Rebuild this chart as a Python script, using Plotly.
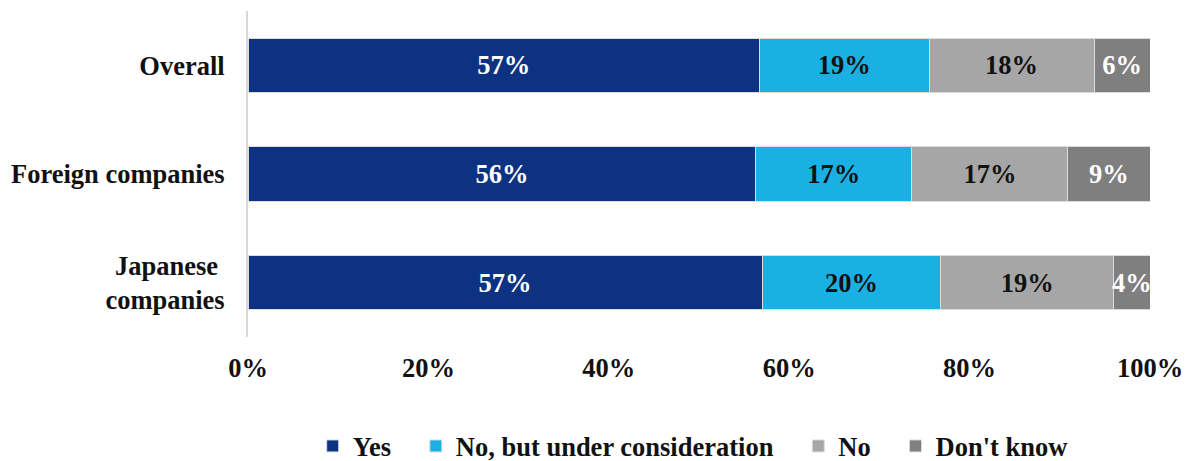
import plotly.graph_objects as go

# Survey groups, top to bottom
groups = ["Overall", "Foreign companies", "Japanese\u00a0<br>companies"]

# Share of respondents per answer (%), one value per group
yes = [56.7, 56.3, 57.0]
considering = [18.8, 17.3, 19.8]
no = [18.3, 17.3, 19.2]
dont_know = [6.2, 9.1, 4.0]

# Axis ticks
tick_values = [0, 20, 40, 60, 80, 100]
tick_labels = ["0%", "20%", "40%", "60%", "80%", "100%"]

answers = ["Yes", "No, but under consideration", "No", "Don't know"]
series = [yes, considering, no, dont_know]
colors = ["#0D3282", "#1BB0E4", "#A6A6A6", "#7F7F7F"]
text_colors = ["#FFFFFF", "#111111", "#111111", "#FFFFFF"]

FONT = "Liberation Serif"
SIZE = 26.5
PAD = "\u00a0" * 3  # extra room between legend entries

fig = go.Figure()
for i, (name, vals, col, tcol) in enumerate(zip(answers, series, colors, text_colors)):
    fig.add_trace(go.Bar(
        y=groups,
        x=vals,
        name=name + (PAD if i < len(answers) - 1 else ""),
        orientation="h",
        marker=dict(color=col, line=dict(color="#DCDCDC", width=1)),
        width=0.5,
        texttemplate="%{x:.0f}%",
        textposition="inside",
        insidetextanchor="middle",
        textangle=0,
        constraintext="none",
        textfont=dict(family=FONT, size=SIZE, color=tcol, weight=700),
        hoverinfo="skip",
    ))

fig.update_layout(
    barmode="stack",
    width=1193,
    height=461,
    margin=dict(l=248, r=43, t=11, b=124, autoexpand=False),
    paper_bgcolor="white",
    plot_bgcolor="white",
    font=dict(family=FONT, size=SIZE, color="#111111", weight=700),
    showlegend=True,
    legend=dict(
        orientation="h",
        x=0.493, xanchor="center",
        y=-0.335, yanchor="middle",
        traceorder="normal",
        font=dict(family=FONT, size=SIZE, color="#111111", weight=700),
        itemwidth=30,
        bgcolor="rgba(0,0,0,0)",
    ),
    xaxis=dict(
        range=[0, 100],
        tickmode="array",
        tickvals=tick_values,
        ticktext=tick_labels,
        showgrid=False,
        zeroline=False,
        showline=False,
        ticks="",
        ticklabelstandoff=12,
        tickfont=dict(family=FONT, size=SIZE, color="#111111", weight=700),
        fixedrange=True,
    ),
    yaxis=dict(
        categoryorder="array",
        categoryarray=groups[::-1],
        showgrid=False,
        zeroline=False,
        showline=True,
        linecolor="#D9D9D9",
        linewidth=2,
        ticks="",
        ticklabelstandoff=16,
        tickfont=dict(family=FONT, size=SIZE, color="#111111", weight=700),
        fixedrange=True,
    ),
)

fig.write_html("out.html")
